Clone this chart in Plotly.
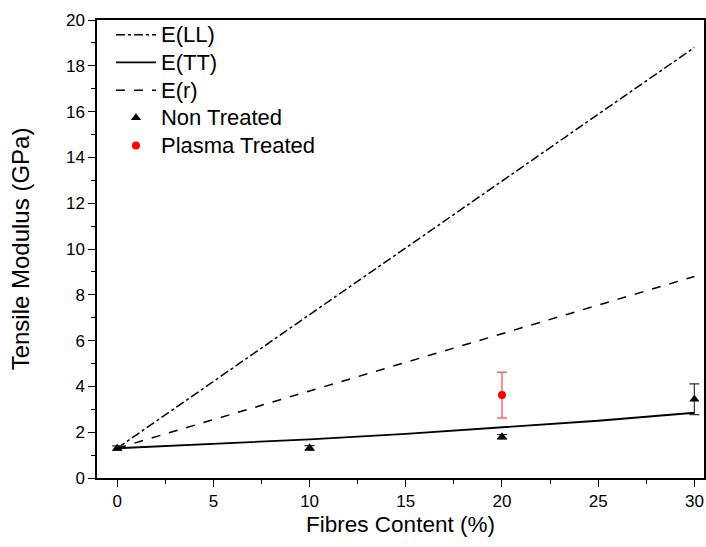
import plotly.graph_objects as go

# Model curves
fibre_model = [0, 5, 10, 15, 20, 25, 30]
e_ll = [1.3, 4.22, 7.13, 10.05, 12.97, 15.88, 18.8]
e_tt = [1.3, 1.49, 1.69, 1.93, 2.2, 2.5, 2.85]
e_r = [1.3, 2.55, 3.8, 5.05, 6.3, 7.55, 8.8]

# Experimental data
fibre_nt = [0, 10, 20, 30]
mod_nt = [1.3, 1.31, 1.8, 3.44]
err_nt = [0.1, 0.1, 0.1, 0.67]

fibre_pt = [20]
mod_pt = [3.62]
err_pt = [1.0]

series_names = ["E(LL)", "E(TT)", "E(r)", "Non Treated", "Plasma Treated"]


def lbl(s):
    return "<span style='font-size:22px'>" + s + "</span>"


fig = go.Figure()
fig.add_trace(go.Scatter(x=fibre_model, y=e_ll, mode="lines", name=lbl(series_names[0]),
                         line=dict(color="black", width=1.5, dash="dashdot")))
fig.add_trace(go.Scatter(x=fibre_model, y=e_tt, mode="lines", name=lbl(series_names[1]),
                         line=dict(color="black", width=1.8, dash="solid")))
fig.add_trace(go.Scatter(x=fibre_model, y=e_r, mode="lines", name=lbl(series_names[2]),
                         line=dict(color="black", width=1.5, dash="dash")))
fig.add_trace(go.Scatter(x=fibre_nt, y=mod_nt, mode="markers", name=lbl(series_names[3]),
                         marker=dict(symbol="triangle-up", size=9, color="black"),
                         error_y=dict(type="data", array=err_nt, color="#333333",
                                      thickness=1.2, width=5)))
fig.add_trace(go.Scatter(x=fibre_pt, y=mod_pt, mode="markers", name=lbl(series_names[4]),
                         marker=dict(symbol="circle", size=8, color="red"),
                         error_y=dict(type="data", array=err_pt, color="rgba(255,0,0,0.6)",
                                      thickness=1.5, width=5)))

font = "Liberation Sans, Arial, sans-serif"
fig.update_layout(
    width=706, height=547,
    margin=dict(l=97, r=0, t=20, b=69),
    paper_bgcolor="white", plot_bgcolor="white",
    font=dict(family=font, color="black", size=17),
    showlegend=True,
    legend=dict(x=0.023, y=1.009, xanchor="left", yanchor="top",
                bgcolor="rgba(0,0,0,0)", font=dict(size=19),
                tracegroupgap=0, itemwidth=40),
    xaxis=dict(range=[-1.05, 30.5], tickmode="array",
               tickvals=[0, 5, 10, 15, 20, 25, 30],
               ticks="outside", ticklen=7, tickwidth=1.3, tickcolor="black",
               showline=True, linecolor="black", linewidth=1.5, mirror=True,
               showgrid=False, zeroline=False,
               minor=dict(dtick=2.5, tick0=0, ticks="outside", ticklen=4,
                          tickcolor="black", showgrid=False),
               tickfont=dict(size=17),
               title=dict(text="Fibres Content (%)", font=dict(size=22.5), standoff=6)),
    yaxis=dict(range=[0, 20], tickmode="array",
               tickvals=[0, 2, 4, 6, 8, 10, 12, 14, 16, 18, 20],
               ticks="outside", ticklen=7, tickwidth=1.3, tickcolor="black",
               showline=True, linecolor="black", linewidth=1.5, mirror=True,
               showgrid=False, zeroline=False,
               minor=dict(dtick=1, tick0=0, ticks="outside", ticklen=4,
                          tickcolor="black", showgrid=False),
               tickfont=dict(size=17),
               title=dict(text="Tensile Modulus (GPa)", font=dict(size=24), standoff=30)),
)

fig.write_html(
    "out.html",
    config={"displayModeBar": False},
    post_script="document.body.style.margin='0';document.body.style.overflow='hidden';",
)
